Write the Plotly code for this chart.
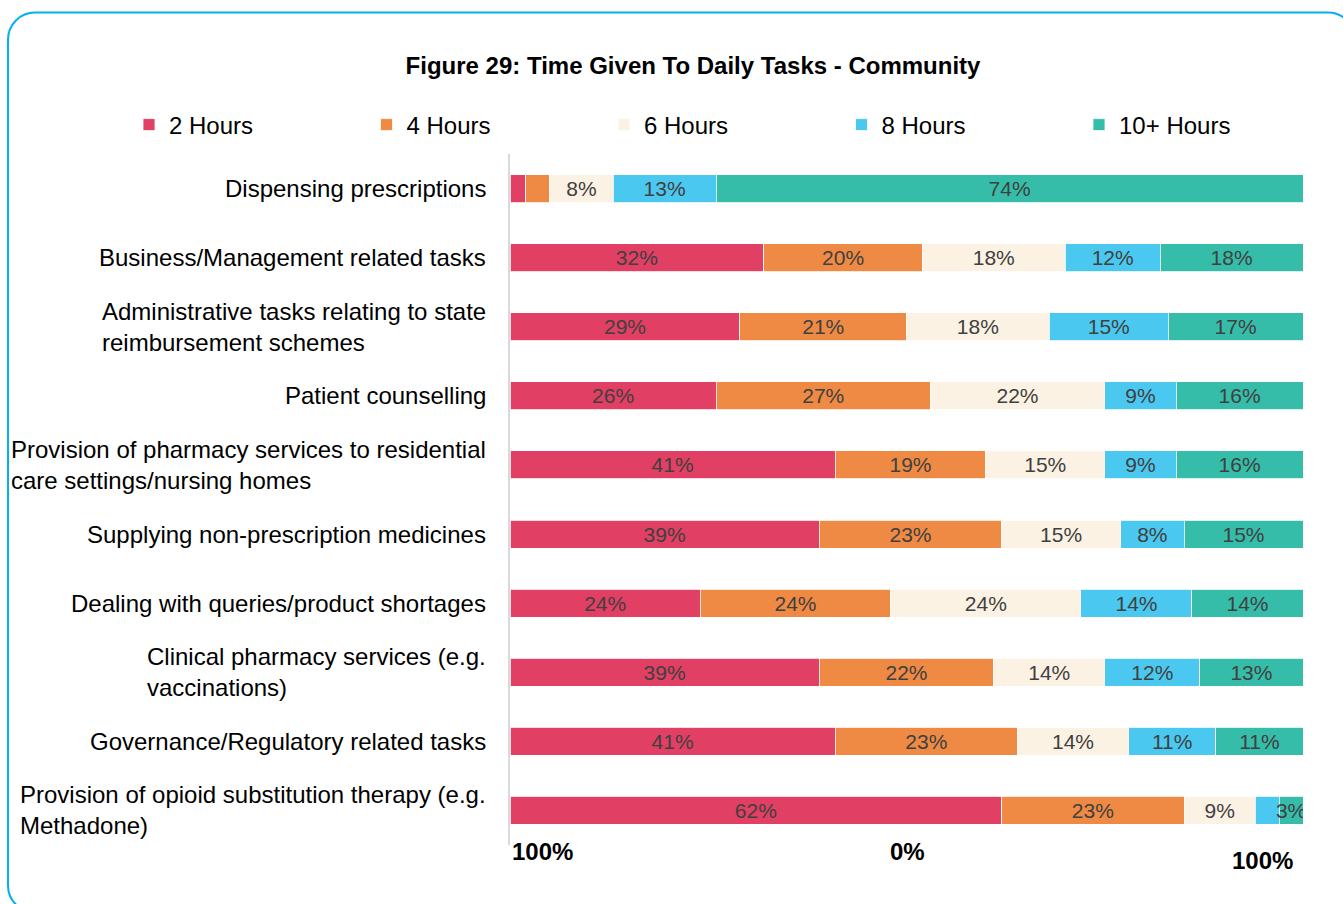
import plotly.graph_objects as go

# Tasks, top to bottom
categories = [
    "Dispensing prescriptions",
    "Business/Management related tasks",
    "Administrative tasks relating to state<br>reimbursement schemes",
    "Patient counselling",
    "Provision of pharmacy services to residential<br>care settings/nursing homes",
    "Supplying non-prescription medicines",
    "Dealing with queries/product shortages",
    "Clinical pharmacy services (e.g.<br>vaccinations)",
    "Governance/Regulatory related tasks",
    "Provision of opioid substitution therapy (e.g.<br>Methadone)",
]

series_names = ["2 Hours", "4 Hours", "6 Hours", "8 Hours", "10+ Hours"]

# Share of respondents (%) per task
hours_2 = [2, 32, 29, 26, 41, 39, 24, 39, 41, 62]
hours_4 = [3, 20, 21, 27, 19, 23, 24, 22, 23, 23]
hours_6 = [8, 18, 18, 22, 15, 15, 24, 14, 14, 9]
hours_8 = [13, 12, 15, 9, 9, 8, 14, 12, 11, 3]
hours_10 = [74, 18, 17, 16, 16, 15, 14, 13, 11, 3]

# Segments too narrow to carry a label
unlabelled = [(0, "2 Hours"), (0, "4 Hours"), (9, "8 Hours")]

axis_labels = ["100%", "0%", "100%"]

colors = ["#E13F63", "#EF8A45", "#FCF2E4", "#4BC8EF", "#35BDAA"]
FONT = "Liberation Sans, Arial, Helvetica, sans-serif"

W, H = 1343, 904
ML, MR, MT, MB = 510, 40, 153.5, 59.4
PW, PH = W - ML - MR, H - MT - MB
LEGEND_X0, LEGEND_STEP, LEGEND_Y = 129, 237.5, 125


def px(x):
    return (x - ML) / PW


def py(y):
    return (H - MB - y) / PH


fig = go.Figure()
legend_layouts = {}
for i, (name, vals, col) in enumerate(zip(
        series_names, [hours_2, hours_4, hours_6, hours_8, hours_10], colors)):
    text = ["" if (j, name) in unlabelled else f"{v}%" for j, v in enumerate(vals)]
    key = "legend" if i == 0 else f"legend{i + 1}"
    fig.add_trace(go.Bar(
        name=name, y=categories, x=vals, orientation="h",
        marker=dict(color=col, line=dict(color="white", width=0.8)),
        text=text, textposition="inside", insidetextanchor="middle",
        textangle=0, constraintext="none",
        textfont=dict(color="#404040", size=21, family=FONT),
        hoverinfo="skip", legend=key,
    ))
    # one single-entry legend per series, spaced evenly across the top
    legend_layouts[key] = dict(
        orientation="h",
        x=(LEGEND_X0 + i * LEGEND_STEP) / W, xref="container", xanchor="left",
        y=1 - LEGEND_Y / H, yref="container", yanchor="middle",
        font=dict(size=24, color="#000000", family=FONT),
        bgcolor="rgba(0,0,0,0)", itemclick=False, itemdoubleclick=False,
    )

annotations = []
for cat in categories:
    annotations.append(dict(
        x=0, xref="paper", y=cat, yref="y", xshift=-22,
        xanchor="right", yanchor="middle", align="left",
        text=cat, showarrow=False,
        font=dict(size=24, color="#000000", family=FONT),
    ))

# Scale captions under the bars
for lbl, xp, yp, anchor in zip(axis_labels, [510, 907, 1262], [851, 851, 860],
                               ["left", "center", "center"]):
    annotations.append(dict(
        x=px(xp), xref="paper", y=py(yp), yref="paper",
        xanchor=anchor, yanchor="middle", text=f"<b>{lbl}</b>",
        showarrow=False, font=dict(size=24, color="#000000", family=FONT),
    ))

# Rounded frame around the chart
x0, y0, x1, y1, r = 8, 12, 1355, 912, 27
k = 0.5523 * r


def P(x, y):
    return f"{px(x):.6f},{py(y):.6f}"


frame = (
    f"M{P(x0 + r, y0)} L{P(x1 - r, y0)} "
    f"C{P(x1 - r + k, y0)} {P(x1, y0 + r - k)} {P(x1, y0 + r)} "
    f"L{P(x1, y1 - r)} "
    f"C{P(x1, y1 - r + k)} {P(x1 - r + k, y1)} {P(x1 - r, y1)} "
    f"L{P(x0 + r, y1)} "
    f"C{P(x0 + r - k, y1)} {P(x0, y1 - r + k)} {P(x0, y1 - r)} "
    f"L{P(x0, y0 + r)} "
    f"C{P(x0, y0 + r - k)} {P(x0 + r - k, y0)} {P(x0 + r, y0)} Z"
)

fig.update_layout(
    width=W, height=H,
    margin=dict(l=ML, r=MR, t=MT, b=MB, pad=0, autoexpand=False),
    paper_bgcolor="white", plot_bgcolor="white",
    barmode="stack", bargap=0.595,
    font=dict(family=FONT, color="#000000"),
    title=dict(
        text="<b>Figure 29: Time Given To Daily Tasks - Community</b>",
        x=693 / W, xref="container", xanchor="center",
        y=1 - 66 / H, yref="container", yanchor="middle",
        font=dict(size=24, color="#000000", family=FONT),
    ),
    xaxis=dict(range=[0, 100], showticklabels=False, showgrid=False,
               zeroline=False, showline=False, fixedrange=True),
    yaxis=dict(autorange="reversed", showticklabels=False, showgrid=False,
               zeroline=False, showline=True, linecolor="#D9D9D9",
               linewidth=2, ticks="", fixedrange=True),
    annotations=annotations,
    shapes=[dict(type="path", path=frame, xref="paper", yref="paper",
                 line=dict(color="#00B0F0", width=2), layer="above")],
    showlegend=True,
    **legend_layouts,
)

fig.write_html("out.html", config={"displayModeBar": False})
